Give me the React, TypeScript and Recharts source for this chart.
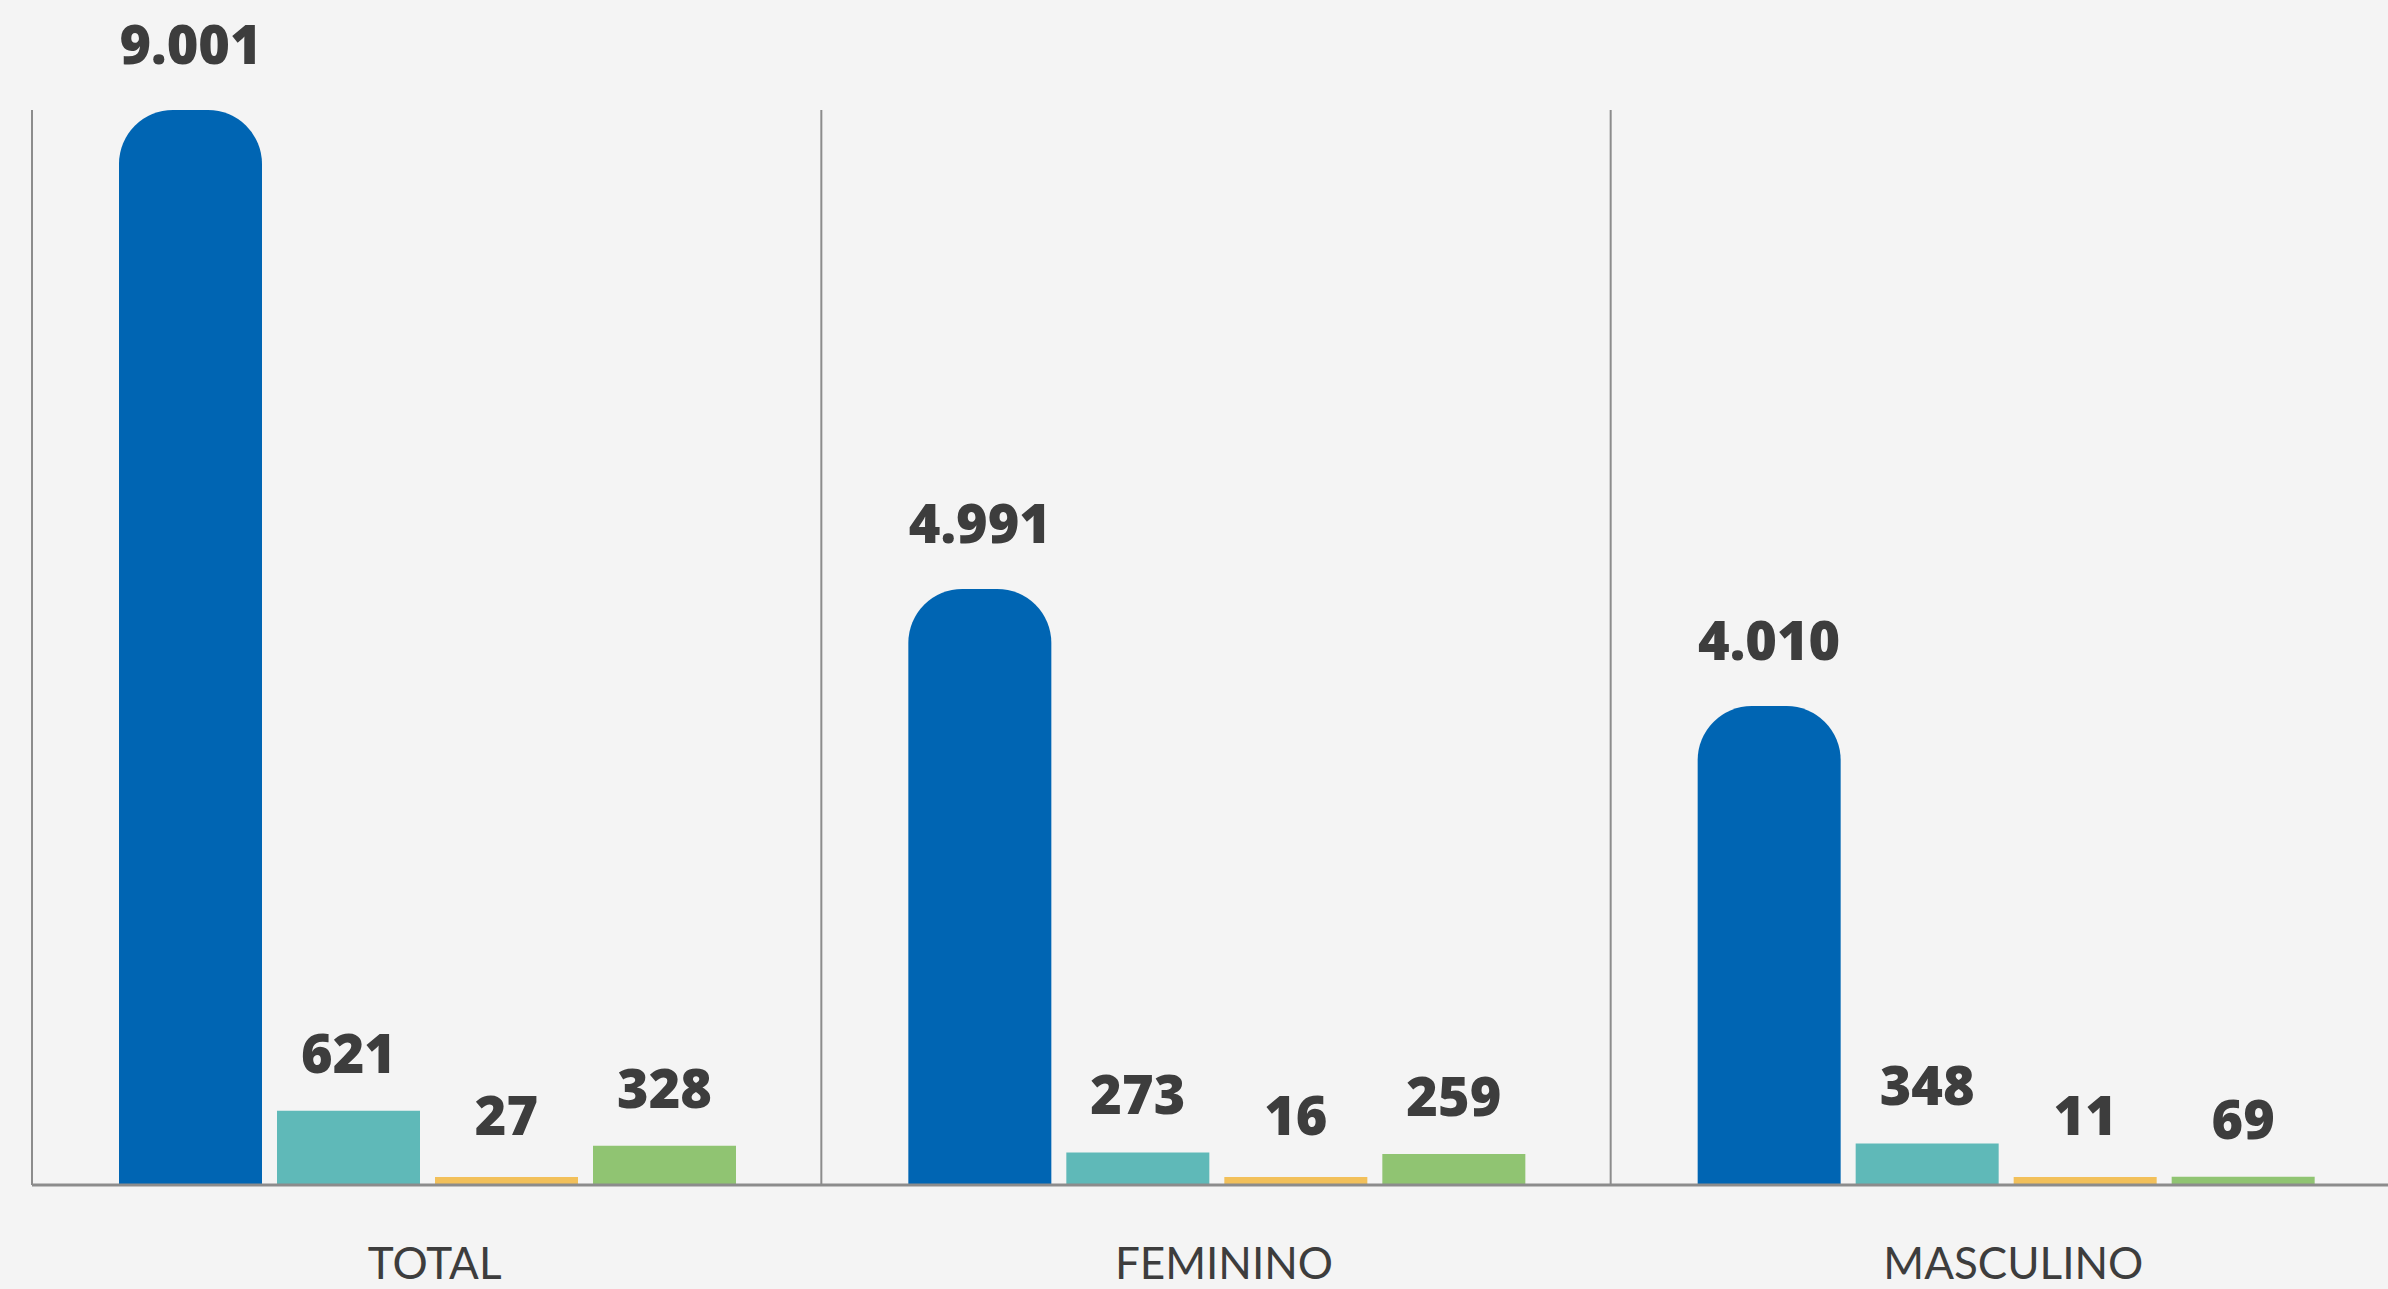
import React from 'react';
import { BarChart, Bar, XAxis, YAxis, LabelList, ReferenceLine } from 'recharts';

// categories and series
const CATEGORIES = ['TOTAL', 'FEMININO', 'MASCULINO'];
const SERIE_A = [9001, 4991, 4010];
const SERIE_B = [621, 273, 348];
const SERIE_C = [27, 16, 11];
const SERIE_D = [328, 259, 69];

const DATA = CATEGORIES.map((name, i) => ({
  name,
  a: SERIE_A[i],
  b: SERIE_B[i],
  c: SERIE_C[i],
  d: SERIE_D[i],
}));

const TEXT = '#3d3d3d';
const GRID = '#8c8c8c';

// 9001 -> "9.001"
const fmt = (v: number | string) => String(v).replace(/\B(?=(\d{3})+(?!\d))/g, '.');

const labelStyle = {
  fill: TEXT,
  fontFamily: '"Open Sans", sans-serif',
  fontWeight: 800,
  fontSize: 54,
};

const CategoryTick = ({ x, y, payload }: { x?: number; y?: number; payload?: { value: string } }) => (
  <text
    x={(x ?? 0) + 8}
    y={(y ?? 0) + 86}
    textAnchor="middle"
    fill={TEXT}
    fontFamily="Lato, sans-serif"
    fontSize={44}
  >
    {payload?.value}
  </text>
);

export default function App() {
  return (
    <div style={{ width: 2388, height: 1289, overflow: 'hidden', background: '#f4f4f4' }}>
      <style>{'body{margin:0;background:#f4f4f4}'}</style>
      <BarChart
        width={2400}
        height={1289}
        data={DATA}
        margin={{ top: 110, right: 0, left: 32, bottom: 0 }}
        barCategoryGap={87}
        barGap={15}
      >
        <XAxis
          dataKey="name"
          height={104}
          tickLine={false}
          axisLine={{ stroke: GRID, strokeWidth: 3 }}
          tick={<CategoryTick />}
          interval={0}
        />
        <YAxis hide domain={[0, 9001]} />
        {CATEGORIES.map((c) => (
          <ReferenceLine key={`sep-${c}`} x={c} position="start" stroke={GRID} strokeWidth={2} />
        ))}
        <Bar dataKey="a" fill="#0065b3" radius={[54, 54, 0, 0]} isAnimationActive={false}>
          <LabelList dataKey="a" position="top" offset={46} formatter={fmt} style={labelStyle} />
        </Bar>
        <Bar dataKey="b" fill="#5fb9b8" isAnimationActive={false}>
          <LabelList dataKey="b" position="top" offset={38} formatter={fmt} style={labelStyle} />
        </Bar>
        <Bar dataKey="c" fill="#f2c05a" minPointSize={8} isAnimationActive={false}>
          <LabelList dataKey="c" position="top" offset={42} formatter={fmt} style={labelStyle} />
        </Bar>
        <Bar dataKey="d" fill="#90c472" minPointSize={8} isAnimationActive={false}>
          <LabelList dataKey="d" position="top" offset={38} formatter={fmt} style={labelStyle} />
        </Bar>
      </BarChart>
    </div>
  );
}
